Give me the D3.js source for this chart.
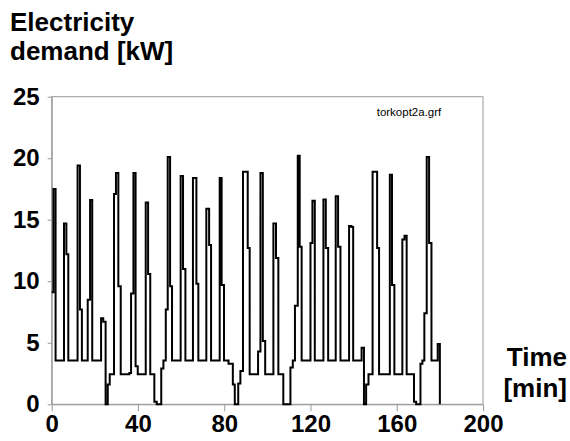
<!DOCTYPE html>
<html>
<head>
<meta charset="utf-8">
<script src="https://cdn.jsdelivr.net/npm/d3@7"></script>
<style>
  body { margin: 0; background: #fff; }
  svg { font-family: Arial, "Liberation Sans", sans-serif; }
</style>
</head>
<body>
<svg id="chart"></svg>
<script>
// step start times [min] and the demand that holds from each of them [kW]
const stepTimes = [
    0, 0.8, 1.8, 5.7, 6.8, 7.7, 12.0, 13.1, 14.0, 16.7, 17.8, 18.8,
    22.9, 23.9, 25.0, 26.0, 26.9, 28.9, 29.8, 30.9, 32.0, 36.0, 36.8, 37.9,
    38.9, 39.9, 43.6, 44.7, 45.7, 47.6, 48.7, 50.8, 51.8, 52.9, 53.8, 54.9,
    55.8, 59.8, 60.9, 62.0, 65.5, 67.1, 68.0, 71.7, 73.0, 73.9, 77.9, 78.8,
    79.9, 82.0, 84.0, 84.9, 86.5, 87.5, 88.7, 90.9, 91.8, 95.7, 96.8, 97.9,
    99.0, 102.8, 104.0, 105.1, 107.4, 110.7, 111.8, 112.8, 114.1, 115.0, 115.9, 120.0,
    120.9, 122.0, 126.0, 127.1, 128.2, 131.7, 132.8, 133.9, 137.9, 139.0, 139.8, 143.7,
    144.8, 145.8, 146.9, 148.8, 150.9, 151.8, 156.8, 157.8, 158.9, 162.6, 163.6, 164.6,
    168.0, 169.0, 171.0, 171.9, 172.8, 173.9, 175.0, 176.1, 179.0, 180.0
];
const demandValues = [
    9.1, 17.5, 3.55, 14.7, 12.2, 3.55, 19.4, 7.7, 3.55, 8.5, 16.6, 3.55,
    7.0, 6.7, 0, 1.6, 2.45, 17.1, 18.8, 9.6, 2.45, 2.55, 9.0, 18.8,
    3.1, 2.45, 16.4, 10.6, 2.45, 0.2, 0, 2.9, 3.55, 7.7, 20.1, 9.6,
    3.55, 18.55, 11.0, 3.55, 18.4, 9.8, 3.55, 15.9, 12.95, 3.55, 18.4, 9.7,
    3.55, 3.3, 1.6, 0, 1.7, 2.7, 18.9, 12.7, 2.45, 4.3, 18.8, 5.15,
    2.45, 14.7, 11.9, 2.45, 0, 3.0, 3.55, 8.0, 20.2, 12.8, 3.55, 13.1,
    16.55, 3.55, 16.65, 12.7, 3.55, 16.9, 12.8, 3.55, 14.5, 14.4, 3.55, 4.6,
    0, 1.6, 2.45, 18.9, 12.7, 2.45, 18.65, 9.7, 2.45, 13.4, 13.7, 2.45,
    0.2, 0, 3.3, 3.55, 7.4, 20.1, 13.1, 3.55, 4.9, 0
];
const xTickValues = [0, 40, 80, 120, 160, 200];
const yTickValues = [0, 5, 10, 15, 20, 25];
const yTitleLines = ['Electricity', 'demand [kW]'];
const xTitleLines = ['Time', '[min]'];
const fileLabel = 'torkopt2a.grf';

class StepChart {
    constructor(_config, _times, _values) {
        this.config = {
            parentElement: _config.parentElement,
            containerWidth: _config.containerWidth || 570,
            containerHeight: _config.containerHeight || 441,
            margin: {top: 96.7, right: 87, bottom: 36.7, left: 51.7}
        };
        this.times = _times;
        this.values = _values;
        this.initVis();
    }

    initVis() {
        let vis = this;

        vis.width = vis.config.containerWidth - vis.config.margin.left - vis.config.margin.right;
        vis.height = vis.config.containerHeight - vis.config.margin.top - vis.config.margin.bottom;

        vis.svg = d3.select(vis.config.parentElement)
            .attr('width', vis.config.containerWidth)
            .attr('height', vis.config.containerHeight);

        vis.chart = vis.svg.append('g')
            .attr('transform', `translate(${vis.config.margin.left}, ${vis.config.margin.top})`);

        vis.xScale = d3.scaleLinear().domain([0, 200]).range([0, vis.width]);
        vis.yScale = d3.scaleLinear().domain([0, 25]).range([vis.height, 0]);

        vis.updateVis();
    }

    updateVis() {
        let vis = this;
        let gray = '#999';

        // frame (top and right side)
        vis.chart.append('rect')
            .attr('width', vis.width)
            .attr('height', vis.height)
            .attr('fill', 'none')
            .attr('stroke', gray)
            .attr('stroke-width', 1);

        vis.xAxisGroup = vis.chart.append('g')
            .attr('class', 'axis x-axis')
            .attr('transform', 'translate(0,' + vis.height + ')')
            .call(d3.axisBottom(vis.xScale).tickValues(xTickValues).tickSize(7).tickSizeOuter(0).tickPadding(4));

        vis.yAxisGroup = vis.chart.append('g')
            .attr('class', 'axis y-axis')
            .call(d3.axisLeft(vis.yScale).tickValues(yTickValues).tickSize(4).tickSizeOuter(0).tickPadding(8));

        vis.chart.selectAll('.axis path, .axis line').attr('stroke', gray);
        vis.chart.selectAll('.axis text')
            .attr('fill', '#000')
            .attr('font-size', 24)
            .attr('font-weight', 'bold')
            .attr('font-family', 'Arial, "Liberation Sans", sans-serif');

        let points = vis.times.map((t, i) => [t, vis.values[i]]);
        let line = d3.line()
            .x(d => vis.xScale(d[0]))
            .y(d => vis.yScale(d[1]))
            .curve(d3.curveStepAfter);

        vis.chart.append('path')
            .datum(points)
            .attr('fill', 'none')
            .attr('stroke', '#000')
            .attr('stroke-width', 2)
            .attr('d', line);

        vis.chart.append('text')
            .attr('x', 325)
            .attr('y', 19.5)
            .attr('font-size', 11.5)
            .attr('fill', '#000')
            .text(fileLabel);

        vis.svg.selectAll('.ytitle')
            .data(yTitleLines)
            .join('text')
            .attr('class', 'ytitle')
            .attr('x', 10)
            .attr('y', (d, i) => 31 + i * 29)
            .attr('font-size', 26)
            .attr('font-weight', 'bold')
            .text(d => d);

        vis.svg.selectAll('.xtitle')
            .data(xTitleLines)
            .join('text')
            .attr('class', 'xtitle')
            .attr('x', 567)
            .attr('text-anchor', 'end')
            .attr('y', (d, i) => 366 + i * 31)
            .attr('font-size', 26)
            .attr('font-weight', 'bold')
            .text(d => d);
    }
}

new StepChart({parentElement: '#chart'}, stepTimes, demandValues);
</script>
</body>
</html>
